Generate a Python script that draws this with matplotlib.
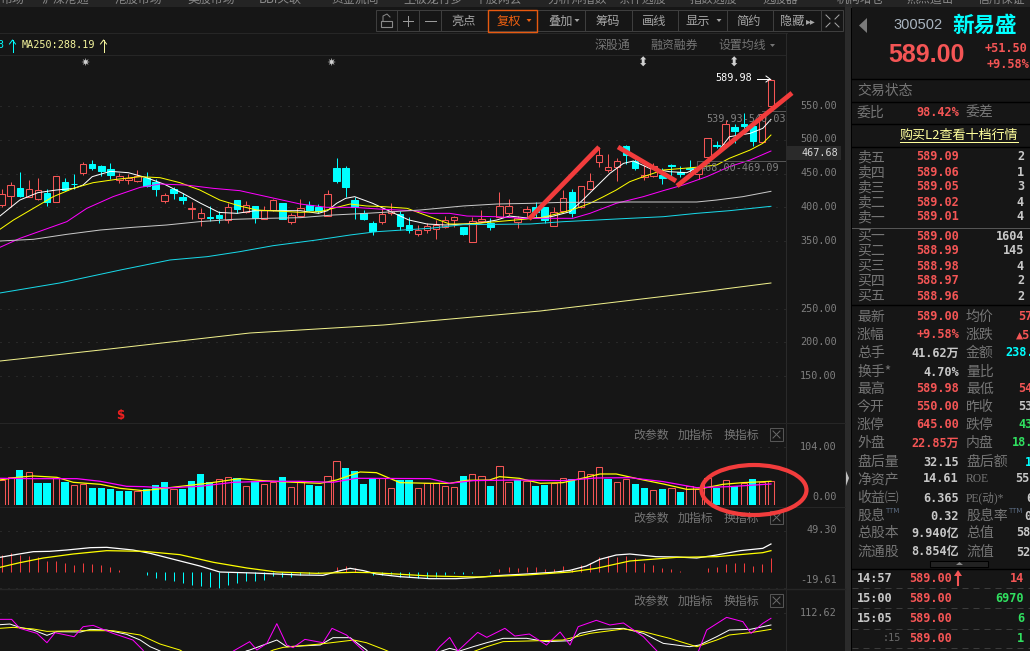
import matplotlib
matplotlib.use('Agg')
from matplotlib import pyplot as plt
from matplotlib.patches import Ellipse, Rectangle, Polygon

plt.rcParams['font.family'] = ['Noto Sans CJK SC', 'DejaVu Sans']

# candles
opens = [403.3, 417.1, 428.0, 415.7, 411.7, 421.6, 408.3, 437.4, 434.9, 450.7,
         464.0, 461.1, 456.6, 440.4, 439.9, 439.4, 442.8, 437.4, 409.7, 427.0,
         415.2, 396.9, 384.5, 385.5, 388.5, 380.6, 410.2, 392.5, 401.8, 382.1,
         395.4, 406.3, 378.6, 387.0, 403.3, 399.9, 387.0, 458.1, 458.1, 410.7,
         391.0, 376.6, 378.6, 391.9, 389.5, 373.7, 360.8, 366.8, 367.3, 371.2,
         381.1, 370.7, 348.0, 379.6, 377.1, 386.0, 392.0, 378.6, 393.4, 399.9,
         399.9, 372.7, 394.9, 422.6, 399.9, 426.5, 467.5, 455.2, 459.1, 490.7,
         468.0, 445.3, 445.8, 447.3, 462.6, 452.7, 457.6, 449.2, 474.9, 492.2,
         493.2, 518.9, 523.8, 520.3, 497.1, 550.0]
closes = [419.1, 432.4, 416.6, 427.5, 426.0, 408.3, 445.8, 426.0, 433.9, 463.6,
          458.1, 453.7, 448.3, 445.8, 443.8, 446.3, 432.0, 427.5, 418.1, 421.6,
          411.2, 398.9, 391.0, 384.0, 384.5, 399.9, 397.4, 402.8, 384.0, 395.9,
          410.2, 382.1, 388.0, 398.4, 395.9, 393.9, 419.1, 438.9, 430.5, 400.4,
          383.1, 364.8, 390.0, 394.9, 372.2, 366.8, 365.8, 372.2, 373.7, 380.6,
          385.0, 360.4, 380.1, 382.1, 370.2, 401.3, 401.3, 383.6, 396.9, 393.4,
          381.1, 393.4, 413.2, 391.0, 431.0, 439.4, 476.9, 460.1, 468.0, 477.4,
          458.6, 447.8, 461.1, 443.8, 461.1, 449.2, 456.1, 458.6, 502.1, 490.7,
          522.8, 512.9, 520.8, 498.1, 537.6, 589.0]
highs = [426.5, 437.9, 451.7, 439.9, 443.3, 426.5, 445.8, 443.3, 449.2, 466.5,
         470.0, 462.6, 465.0, 450.2, 449.2, 455.2, 451.7, 441.8, 421.6, 430.5,
         421.6, 407.8, 398.4, 402.3, 394.9, 405.8, 410.2, 409.2, 401.8, 401.8,
         411.7, 406.3, 391.0, 411.7, 409.2, 404.8, 425.5, 472.9, 461.1, 414.7,
         395.9, 379.6, 398.4, 405.8, 394.9, 385.0, 373.7, 376.2, 381.1, 387.0,
         387.0, 371.2, 385.0, 395.9, 383.6, 422.6, 412.2, 387.0, 401.8, 407.8,
         399.9, 399.9, 425.5, 427.0, 431.0, 450.7, 489.7, 478.9, 472.5, 491.7,
         471.0, 462.6, 465.0, 457.6, 464.0, 461.1, 470.0, 460.1, 502.1, 497.6,
         529.2, 523.3, 539.1, 526.3, 537.6, 589.98]
lows = [400.8, 400.8, 415.7, 414.7, 410.7, 402.3, 408.3, 424.5, 427.0, 447.8,
        455.2, 446.8, 441.8, 435.9, 434.4, 437.9, 430.5, 417.1, 406.3, 412.2,
        404.8, 382.6, 372.2, 380.1, 377.1, 377.1, 391.0, 391.0, 377.1, 382.1,
        393.9, 382.1, 375.2, 386.0, 393.9, 392.0, 387.0, 436.4, 414.7, 383.1,
        381.1, 358.9, 375.7, 388.5, 366.3, 362.3, 357.9, 361.3, 353.4, 368.7,
        371.2, 358.9, 348.0, 378.6, 366.3, 386.0, 388.5, 369.7, 386.0, 386.0,
        376.2, 372.7, 393.4, 386.0, 398.4, 425.5, 460.1, 452.7, 439.4, 464.0,
        455.2, 440.4, 445.3, 434.4, 446.8, 445.3, 445.3, 441.3, 471.0, 488.2,
        492.2, 494.7, 512.0, 491.2, 497.1, 550.0]

# price averages, sampled by candle number
ma5_x = [-0.2, 2, 4, 6, 8, 9, 10, 12, 14, 16, 18, 20, 22, 24, 26, 28, 30, 33, 35, 36, 37, 38, 39, 41, 43,
         45, 47, 49, 51, 53, 54.7, 56.1, 58.4, 60.7, 62.8, 64.2, 65.7, 67.2, 68.7, 69.8, 71.6, 73.8, 75.7,
         77.9, 79, 80.4, 82.7, 84.1, 85]
ma5_y = [387, 410.7, 421.6, 425.5, 428, 433, 445.3, 453.2, 451.2, 443.8, 433.9, 420.6, 405.8, 392.4, 391,
         394.9, 394.9, 394.9, 391, 394.9, 405.8, 413.2, 415.7, 405.8, 393.4, 381.1, 375.2, 373.7, 375, 377,
         381.1, 387, 383.6, 386, 393.4, 410.7, 430.5, 450.2, 465, 468.5, 457.6, 452.7, 451.2, 465, 479.9,
         504.5, 509.5, 516.9, 530.2]
ma10_x = [-0.2, 1.3, 3.5, 5.7, 7.9, 10.1, 12.7, 15.3, 17.5, 19.7, 21.9, 24.1, 26.3, 28.2, 30.4, 33, 35.2,
          36.6, 38.5, 40.3, 42.2, 44.8, 47.3, 49.5, 51.7, 54.7, 57.6, 59.8, 62, 63.5, 65, 66.5, 67.9, 69.4,
          70.9, 73.1, 75.3, 77.5, 79, 80.4, 82.7, 84.1, 85]
ma10_y = [367.3, 381.1, 398.4, 415.7, 428, 436.4, 441.4, 445.3, 443.8, 436.4, 425.5, 410.7, 401.9, 395.9,
          394.4, 392.5, 393.5, 398.4, 404.8, 401.9, 400.9, 398.4, 386, 375.2, 375.2, 378.7, 382.1, 385.1,
          392.5, 398.4, 405.8, 415.7, 425.5, 437.9, 445.3, 455.2, 457.6, 460.1, 462.6, 472.5, 484.8, 494.7,
          507]
ma20_x = [-0.2, 2, 4.6, 7.2, 9.4, 12.3, 15.3, 17.5, 20.4, 23.4, 26.3, 29.3, 33, 35.9, 38.9, 42.2, 45.5,
          47.3, 49.5, 51.4, 54.7, 57.6, 60.6, 63.1, 65, 67.9, 70.9, 73.1, 75.3, 77.9, 80.4, 82.7, 85]
ma20_y = [340.6, 353.9, 366.3, 378.7, 398.4, 415.7, 429.5, 434.4, 432.9, 428, 424.6, 415.7, 404.8, 399.9,
          399.9, 396.9, 394.9, 391, 391, 387, 386, 383.6, 383.6, 383.6, 391, 405.8, 415.7, 424.6, 433,
          445.3, 460.1, 470, 483.3]
ma60_x = [-0.2, 3.5, 7.2, 10.9, 14.5, 18.2, 21.9, 25.6, 29.3, 33, 36.6, 40.3, 42.2, 46.2, 51, 54.7, 58.4,
          62, 65.7, 69.4, 73.1, 76.8, 79, 81.9, 85]
ma60_y = [350, 352.5, 359.9, 366.3, 370.3, 373.7, 378.7, 382.1, 383.6, 384.6, 388.5, 391, 392.5, 395.9,
          401.9, 404.8, 405.8, 407.3, 407.3, 407.8, 407.8, 407.8, 410.7, 415.7, 423.6]
ma120_x = [-0.2, 6.4, 13.1, 18.6, 22.7, 26.3, 30, 34.8, 38.5, 41.4, 47.3, 51, 54.7, 58.4, 62, 65.7, 69.4,
           73.1, 76.8, 80.4, 85]
ma120_y = [273, 287.8, 307, 321.9, 326.8, 334.2, 343.1, 351.5, 358.9, 363.8, 368.8, 374.2, 374.7, 375.2,
           378.6, 381.1, 383.6, 386, 391, 394.9, 401.4]
ma250_x = [-0.2, 10.9, 27.4, 42.2, 59.5, 77.2, 85]
ma250_y = [172.2, 188.5, 213.7, 225.6, 246.3, 274.4, 287.8]

# volume
volumes = [45.1, 51.1, 63.1, 58.9, 39.7, 39.7, 48.1, 41.5, 35.5, 38.5, 30.7, 30.7, 28.8, 25.2, 25.2, 25.8,
           28.8, 36.1, 41.5, 29.4, 28.8, 43.3, 55.9, 41.5, 46.3, 51.1, 48.1, 33.7, 42.7, 38.5, 40.9, 50.5,
           31.9, 42.7, 36.1, 34.3, 51.7, 78.7, 66.7, 61.3, 37.9, 46.9, 49.3, 30, 45.1, 45.1, 30, 39.1,
           39.1, 33.7, 31.9, 52.3, 55.3, 51.7, 34.3, 69.7, 40.9, 45.7, 42.7, 34.3, 36.1, 40.3, 48.1, 46.9,
           60.7, 55.3, 67.9, 46.9, 40.9, 46.3, 37.9, 30.7, 26.4, 28.8, 30.7, 23.4, 34.3, 28.2, 48.1, 31.3,
           44.5, 34.3, 39.1, 46.9, 41.5, 42.7]
vol_up = 'RRCRCCRCRRCCCCCRCCCRCCCCRRCRCRRCRRCCRRCCCCRRCCRR' + 'RRRCRRCRRCRCCRRCRRRCRRCCRCRCRRRCRCRCRR'
vol_ma1_x = [-0.2, 1.7, 3.5, 6.1, 7.9, 10.9, 13.1, 15.7, 17.9, 20.1, 22.7, 26.3, 28.9, 31.5, 35.2, 37, 39.6,
             41.4, 44, 47.3, 49.5, 51.4, 53.9, 55, 57.2, 59.5, 62, 64.6, 66.1, 67.9, 70.9, 73.1, 75.7, 77.1,
             79.7, 81.9, 85]
vol_ma1_y = [45.1, 49.9, 52.3, 49.9, 40.9, 37.3, 30, 25.8, 30, 34.3, 39.1, 47.5, 43.9, 41.5, 39.1, 45.1, 59.5,
             58.3, 40.3, 39.1, 39.1, 44.5, 45.1, 51.1, 48.1, 39.1, 40.3, 49.9, 55.9, 55.9, 45.1, 37.9, 28.2,
             28.8, 37.3, 40.3, 42.7]
vol_ma2_x = [-0.2, 3.5, 8.3, 10.9, 13.8, 15.7, 18.2, 21.9, 25.6, 29.3, 33, 36.6, 39.2, 47.3, 49.5, 52.1, 56.9,
             59.1, 62, 65.7, 69.4, 73.1, 76.8, 80.4, 85]
vol_ma2_y = [48.1, 47.5, 47.5, 42.7, 33.7, 33.1, 30.7, 33.7, 40.9, 42.7, 42.7, 40.9, 48.1, 47.5, 39.1, 43.9,
             45.1, 44.5, 43.9, 48.7, 49.3, 42.1, 31.3, 33.1, 37.9]

# macd
macd = [20, 22, 20, 18.8, 17.2, 12.8, 12.4, 10, 8, 10, 8.8, 8, 5.2, 2, 0, -0.4, -4, -7.6, -10, -11.2, -13.2,
        -16, -16.8, -18, -19.2, -16, -13.2, -11.2, -11.2, -10, -5.2, -6.4, -6.4, -4, -2.4, -2, -0.4, 5.2, 6.8,
        4, 0.2, -4, -4, -2.4, -6, -6.8, -7.2, -7.2, -6.4, -4, -2, -2.8, -2, -0.2, -1.2, 3.2, 6, 4.4, 6, 5.2,
        3.2, 3.2, 6.8, 3.6, 8, 10, 18, 18.8, 18, 19.2, 16, 10, 8, 4.8, 3.2, 0.4, 0, 0, 4.4, 5.6, 9.2, 10.8,
        10.8, 6.8, 9.2, 16.4]
dif_x = [-0.2, 1.7, 3.5, 5.3, 7.2, 9.8, 11.6, 14.5, 16.4, 19, 21.9, 24.1, 27.8, 30.4, 33, 35.5, 37.4, 38.5,
         40, 41.4, 44, 47.3, 50.2, 52.1, 54.7, 58, 60.9, 62.8, 64.6, 66.1, 67.9, 69.4, 72.3, 74.6, 76.8, 79,
         81.6, 84.1, 85]
dif_y = [17.2, 20.8, 24, 24.4, 26, 28.8, 29.2, 26, 22, 14.8, 6.8, -0.4, -1.6, -2.8, -4, -4.4, 1.2, 4, 1.2, -2.8,
         -6, -8.4, -8.4, -7.2, -4.8, -2.8, -0.8, 1.6, 6.8, 14.8, 20, 21.2, 18, 17.6, 16.4, 20, 25.2, 28, 33.2]
dea_x = [-0.2, 2, 4.6, 7.9, 11.6, 15.7, 19.7, 23.4, 27.1, 30.4, 34.8, 38.9, 41, 47.3, 52.8, 58, 62.8, 65.7,
         69.4, 74.6, 79, 84.1, 85]
dea_y = [5.2, 10.8, 16.4, 21.2, 25.2, 24.4, 20.4, 11.2, 4.4, -0.4, -2, -0.8, -1.2, -5.2, -6.4, -4, -0.4, 4,
         12.8, 17.2, 18, 22.8, 25.2]

# kdj
k_x = [-0.2, 0.9, 2, 3.5, 5, 6.1, 8.7, 9.8, 11.6, 13.8, 15.3, 16.4, 17.5, 19, 22, 26, 27, 27.4, 30.4, 31.5,
       35.2, 36.6, 38.5, 40.3, 42, 46, 48.4, 49.5, 50.6, 52.1, 53.6, 55.4, 58, 60.2, 62.8, 63.9, 66.1, 68.7,
       70.9, 73.1, 76, 77.1, 79, 80.4, 82.7, 85]
k_y = [97.3, 98.2, 93.7, 90.1, 82.9, 87.9, 87.4, 91, 90.1, 84.3, 76.6, 67.6, 61.8, 40.6, 27, 40.6, 61.8, 63.1,
       76.6, 67.6, 69.9, 79.8, 79.8, 63.1, 40.6, 45.1, 60.9, 65.4, 61.8, 67.6, 73, 78.9, 78.9, 74.4, 75.7, 85.6,
       91, 92.4, 85.6, 72.1, 67.6, 69.9, 81.1, 90.1, 91, 96.9]
d_x = [-0.2, 1.3, 3.5, 5, 8.7, 12.3, 15.3, 17.5, 19.7, 22, 26, 30, 31.1, 35.2, 38.9, 40.3, 42.2, 45, 49, 52.1,
       53.6, 55.4, 59.4, 62, 65, 68.7, 70.9, 73.8, 76.8, 79, 80.4, 82.7, 85]
d_y = [92.4, 93.7, 91.5, 88.3, 89.2, 89.2, 83.4, 71.2, 63.1, 45.1, 40.6, 63.1, 66.7, 71.2, 76.6, 73, 64, 49.6,
       45.1, 60.9, 67.6, 74.4, 75.7, 76.6, 85.6, 91.5, 87.9, 78.9, 67.6, 76.6, 83.4, 86.5, 91]
j_x = [-0.2, 1.1, 2, 3.9, 5, 5.9, 8, 9, 10.1, 12.3, 14.5, 15.6, 17, 22, 25.6, 27.4, 28.2, 29.3, 30.4, 31.5, 32.2,
       33.5, 35.5, 36.5, 38.1, 40, 41, 46, 48.4, 49.5, 50.4, 52.6, 53.6, 55.6, 56.7, 58.3, 60.2, 61.7, 62.8, 63.7,
       65.7, 67.2, 68.7, 70.9, 72.3, 74, 77, 77.9, 80.1, 81.9, 82.8, 84.1, 85]
j_y = [104.5, 104.5, 92.4, 85.6, 73, 86.5, 81.1, 94.6, 96.4, 85.6, 76.6, 63.1, 31.6, 18.1, 61.8, 74.4, 63.1, 72.1,
       98.7, 69.9, 66.3, 77.5, 73, 92.4, 83.4, 61.8, 31.6, 31.6, 67.6, 80.2, 61.8, 86.9, 80.2, 92.4, 82, 84.7, 69.9,
       87.4, 69.9, 94.6, 103.2, 96.9, 99.6, 81.1, 63.1, 40.6, 61.8, 90.1, 107.2, 101.4, 85.6, 99.1, 105.9]

price_ticks = [150, 200, 250, 350, 400, 450, 500, 550]

# order book
book_names = ['卖五', '卖四', '卖三', '卖二', '卖一', '买一', '买二', '买三', '买四', '买五']
book_prices = ['589.09', '589.06', '589.05', '589.02', '589.01', '589.00', '588.99', '588.98', '588.97', '588.96']
book_sizes = ['2', '1', '3', '4', '4', '1604', '145', '4', '2', '2']

# quote table
stat_left = ['最新', '涨幅', '总手', '换手*', '最高', '今开', '涨停', '外盘', '盘后量', '净资产', '收益㈢', '股息', '总股本', '流通股']
stat_left_val = ['589.00', '+9.58%', '41.62万', '4.70%', '589.98', '550.00', '645.00', '22.85万', '32.15', '14.61',
                 '6.365', '0.32', '9.940亿', '8.854亿']
stat_left_col = 'rrwwrrrrwwwwww'
stat_right = ['均价', '涨跌', '金额', '量比', '最低', '昨收', '跌停', '内盘', '盘后额', 'ROE', 'PE(动)*', '股息率', '总值', '流值']
stat_right_val = ['57', '▲5', '238.', '', '54', '53', '43', '18.', '1', '55', '6', '0', '58', '52']
stat_right_col = 'rrc rwggcwwwww'

# last trades
trade_times = ['14:57', '15:00', '15:05', ':15']
trade_prices = ['589.00', '589.00', '589.00', '589.00']
trade_sizes = ['14', '6970', '6', '1']
trade_cols = 'rggg'

BG = '#161616'
RED = '#f45555'
CYAN = '#00ffff'
GRAY = '#757575'
LINE = '#2c2c2c'
W, H = 1030, 651
THIN = 0.72


def pane(x0, y0, x1, y1):
    ax = fig.add_axes([x0 / W, 1 - y1 / H, (x1 - x0) / W, (y1 - y0) / H], facecolor='none')
    ax.set_xlim((x0 - 1.7) / 9.05, (x1 - 1.7) / 9.05)
    ax.axis('off')
    return ax


fig = plt.figure(figsize=(W / 100, H / 100), dpi=100, facecolor=BG)

ax_main = pane(0, 56, 787, 423)
ax_main.set_ylim(80.4, 624.07)
ax_vol = pane(0, 424, 787, 505)
ax_vol.set_ylim(0, 146)
ax_macd = pane(0, 507, 787, 589)
ax_macd.set_ylim(-20.8, 77.6)
ax_kdj = pane(0, 590, 787, 651)
ax_kdj.set_ylim(61.8, 144.1)

# dotted price levels
for p in price_ticks:
    ax_main.plot([-0.2, 86.7], [p, p], color='#3a3a3a', lw=THIN, ls=(0, (1, 7)), zorder=1)
for ax, levels in ((ax_vol, [104, 0]), (ax_macd, [49.3, -19.61]), (ax_kdj, [112.62])):
    for p in levels:
        ax.plot([-0.2, 86.7], [p, p], color='#3a3a3a', lw=THIN, ls=(0, (1, 7)), zorder=1)

for i in range(len(opens)):
    up = closes[i] >= opens[i]
    col = RED if up else CYAN
    top, bot = max(opens[i], closes[i]), min(opens[i], closes[i])
    ax_main.plot([i, i], [top, highs[i]], color=col, lw=THIN, zorder=2, solid_capstyle='butt')
    ax_main.plot([i, i], [lows[i], bot], color=col, lw=THIN, zorder=2, solid_capstyle='butt')
    ax_main.bar(i, top - bot, width=0.72, bottom=bot, facecolor=BG if up else CYAN, edgecolor=col, lw=0.75, zorder=2)

ax_main.plot(ma5_x, ma5_y, color='#ffffff', lw=THIN, zorder=3)
ax_main.plot(ma10_x, ma10_y, color='#ffff00', lw=THIN, zorder=3)
ax_main.plot(ma20_x, ma20_y, color='#ff00ff', lw=THIN, zorder=3)
ax_main.plot(ma60_x, ma60_y, color='#c8c8c8', lw=THIN, zorder=3)
ax_main.plot(ma120_x, ma120_y, color='#18d8e8', lw=THIN, zorder=3)
ax_main.plot(ma250_x, ma250_y, color='#f0f08c', lw=THIN, zorder=3)

for i, v in enumerate(volumes):
    if vol_up[i] == 'R':
        ax_vol.bar(i, v, width=0.7, facecolor=BG, edgecolor=RED, lw=0.75, zorder=2)
    else:
        ax_vol.bar(i, v, width=0.8, color=CYAN, lw=0, zorder=2)
ax_vol.plot(vol_ma1_x, vol_ma1_y, color='#ffff00', lw=0.9, zorder=3)
ax_vol.plot(vol_ma2_x, vol_ma2_y, color='#ff00ff', lw=0.9, zorder=3)

for i, v in enumerate(macd):
    ax_macd.plot([i, i], [0, v], color='#f03c3c' if v > 0 else CYAN, lw=THIN, zorder=2, solid_capstyle='butt')
ax_macd.plot(dif_x, dif_y, color='#ffffff', lw=0.9, zorder=3)
ax_macd.plot(dea_x, dea_y, color='#ffff00', lw=0.9, zorder=3)

ax_kdj.plot(k_x, k_y, color='#ffffff', lw=THIN, zorder=3)
ax_kdj.plot(d_x, d_y, color='#ffff00', lw=THIN, zorder=3)
ax_kdj.plot(j_x, j_y, color='#ff00ff', lw=THIN, zorder=3)

# page overlay in pixels: toolbar, labels, quote panel, hand drawn marks
ov = fig.add_axes([0, 0, 1, 1], facecolor='none')
ov.set_xlim(0, W)
ov.set_ylim(H, 0)
ov.axis('off')


def t(x, y, s, c=GRAY, size=8.6, ha='left', **kw):
    ov.text(x, y, s, color=c, fontsize=size, ha=ha, va='center', **kw)


def mono(x, y, s, c=GRAY, size=7.3, ha='right', weight='normal'):
    ov.text(x, y, s, color=c, fontsize=size, ha=ha, va='center', weight=weight,
            family=['DejaVu Sans Mono', 'Noto Sans CJK SC'])


def hline(x0, x1, y, c=LINE, lw=THIN, **kw):
    ov.plot([x0, x1], [y, y], color=c, lw=lw, **kw)


def vline(x, y0, y1, c=LINE, lw=THIN):
    ov.plot([x, x], [y0, y1], color=c, lw=lw)


# top tabs
ov.add_patch(Rectangle((0, 0), W, 7, color='#242424', lw=0))
tabs = [(0, '市场'), (42, '沪深港通'), (115, '港股市场'), (187, '美股市场'), (259, 'BBI关联'), (331, '资金流向'),
        (403, '主板龙行多'), (475, '个股网会'), (547, '分析师指数'), (619, '条件选股'), (690, '指数选股'),
        (762, '选股器'), (837, '机构增仓'), (907, '热点追击'), (978, '信用保证')]
for x, s in tabs:
    t(x, -1, s, c='#8a8a8a', size=8.6)

# toolbar
edges = [376, 397, 419, 441, 488, 537, 585, 632, 678, 727, 773, 821, 843]
ov.add_patch(Rectangle((376, 10), 467, 21, fill=False, ec='#3e3e3e', lw=0.75))
for x in edges[1:-1]:
    vline(x, 10, 31, c='#3e3e3e')
ov.add_patch(Rectangle((488, 9.5), 49, 22, fill=False, ec='#e85a10', lw=1, zorder=5))
ov.add_patch(Rectangle((381, 21), 11, 6, fill=False, ec='#8a8a8a', lw=0.8))
ov.plot([383, 383, 387, 390], [21, 16, 14, 17], color='#8a8a8a', lw=THIN)
hline(403, 413, 21, c='#9a9a9a')
vline(408, 16, 26, c='#9a9a9a')
hline(425, 436, 21, c='#9a9a9a')
buttons = [(464, '亮点', '#a6a6a6'), (509, '复权', '#f06010'), (561, '叠加', '#a6a6a6'), (608, '筹码', '#a6a6a6'),
           (654, '画线', '#a6a6a6'), (698, '显示', '#a6a6a6'), (749, '简约', '#a6a6a6'), (792, '隐藏', '#a6a6a6')]
for x, s, c in buttons:
    t(x, 21, s, c=c, size=8.8, ha='center')
t(811, 21, '▸▸', c='#a6a6a6', size=7, ha='center', family=['DejaVu Sans'])
for x, c in ((529, '#f06010'), (577, '#a6a6a6'), (719, '#a6a6a6')):
    ov.add_patch(Polygon([(x - 2.5, 19), (x + 2.5, 19), (x, 22)], color=c, lw=0))
for x, y, dx, dy in ((826, 15, 4, 4), (839, 15, -4, 4), (826, 27, 4, -4), (839, 27, -4, -4)):
    ov.plot([x, x + dx], [y, y + dy], color='#a6a6a6', lw=THIN)

# legend row
hline(0, 787, 33, c='#262626')
hline(0, 785, 55, c='#262626')
t(-3, 45, '3', c=CYAN, size=7.3, family=['DejaVu Sans Mono'])
ov.plot([12.5, 12.5], [52, 40], color=CYAN, lw=THIN)
ov.plot([9.5, 12.5, 15.5], [44, 40, 44], color=CYAN, lw=THIN)
mono(22, 45, 'MA250:288.19', c='#f4f49c', ha='left')
ov.plot([103.5, 103.5], [52, 40], color='#f4f49c', lw=THIN)
ov.plot([100.5, 103.5, 106.5], [44, 40, 44], color='#f4f49c', lw=THIN)
t(595, 45, '深股通', size=8.6)
t(650, 45, '融资融券', size=8.6)
t(718, 45, '设置均线', size=8.6)
ov.add_patch(Polygon([(770, 44), (775, 44), (772.5, 47)], color=GRAY, lw=0))

# event marks
for x in (85, 331):
    t(x, 63, '✷', c='#d0d0d0', size=8, ha='center', family=['DejaVu Sans'])
for x in (643, 734):
    t(x, 63, '⬍', c='#d0d0d0', size=9, ha='center', family=['DejaVu Sans'])
t(120, 415, '$', c='#f02020', size=8.5, ha='center', family=['DejaVu Sans'], weight='bold')

# price notes
mono(752, 78, '589.98', c='#ffffff')
ov.plot([757, 770], [79, 79], color='#ffffff', lw=THIN)
ov.plot([766, 770, 766], [76, 79, 82], color='#ffffff', lw=THIN)
hline(762, 785, 111, c='#555555')
mono(706, 119, '539.93-540.03', c='#7f7f7f', ha='left')
hline(697, 785, 161, c='#555555')
vline(697, 161, 172, c='#555555')
mono(700, 168, '468.00-469.09', c='#7f7f7f', ha='left')

# axis strip
vline(786, 33, 651, c='#2a2a2a')
ticks_px = [(106, '550.00'), (139, '500.00'), (173, '450.00'), (207, '400.00'), (241, '350.00'), (309, '250.00'),
            (342, '200.00'), (376, '150.00'), (447, '104.00'), (497, '0.00'), (530, '49.30'), (580, '-19.61'),
            (613, '112.62')]
for y, s in ticks_px:
    mono(837, y, s, c='#7f7f7f')
ov.add_patch(Rectangle((787, 146), 54, 14, color='#2a2a2a', lw=0, zorder=0.5))
mono(838, 153, '467.68', c='#d8d8d8')
hline(0, 845, 423, c='#262626')
hline(0, 845, 506.5, c='#262626')
hline(0, 845, 589, c='#262626', lw=1)

# pane buttons
for y in (435, 518, 601):
    t(633, y, '改参数', size=8.6)
    t(678, y, '加指标', size=8.6)
    t(724, y, '换指标', size=8.6)
    ov.add_patch(Rectangle((770, y - 7), 13, 13, fill=False, ec='#555555', lw=0.75))
    ov.plot([773, 780], [y - 4, y + 3], color='#6a6a6a', lw=THIN)
    ov.plot([773, 780], [y + 3, y - 4], color='#6a6a6a', lw=THIN)

# divider
ov.add_patch(Rectangle((845, 0), 7, H, color='#2b2b2b', lw=0))
ov.add_patch(Rectangle((851, 8), 1, H, color='#000000', lw=0))
ov.add_patch(Polygon([(846, 471), (849, 478), (846, 486)], color='#c0c0c0', lw=0))

# quote header
ov.add_patch(Polygon([(867, 18), (859, 25.5), (867, 33)], color='#7a7a7a', lw=0))
t(893, 25, '300502', c='#a9b4bf', size=10.5, family=['Liberation Sans'])
t(952, 25, '新易盛', c=CYAN, size=15.5, weight='bold')
t(965, 55, '589.00', c=RED, size=18, ha='right', family=['Liberation Sans'], weight='bold')
mono(1027, 48, '+51.50', c=RED, size=8.6, weight='bold')
mono(1029, 65, '+9.58%', c=RED, size=8.6, weight='bold')
for y in (79, 102, 124, 147, 304.5):
    hline(852, W, y, c='#000000', lw=1)
hline(852, W, 227.5, c='#555555')
hline(852, W, 568.5, c='#000000', lw=1)

t(857, 91, '交易状态', size=10)
t(857, 113, '委比', size=10)
mono(959, 113, '98.42%', c=RED, size=8.6, weight='bold')
t(966, 113, '委差', size=10)
t(900, 135, '购买L2查看十档行情', c='#ffff9c', size=9.4)
hline(900, 1018, 142, c='#ffff9c')

book_y = [157, 172, 187, 202, 217, 236, 251, 266, 281, 296]
for y, name, price, size in zip(book_y, book_names, book_prices, book_sizes):
    t(857, y, name, size=10)
    mono(959, y, price, c=RED, size=8.6, weight='bold')
    mono(1024, y, size, c='#c8c8c8', size=8.6, weight='bold')

stat_y = [317, 335, 353, 372, 389, 407, 425, 443, 462, 479, 498, 516, 533, 552]
colors = {'r': RED, 'w': '#c8c8c8', 'c': CYAN, 'g': '#30e060', ' ': GRAY}
starts = [1018, 1016, 1005, 1030, 1018, 1018, 1018, 1012, 1025, 1015, 1026, 1024, 1016, 1016]
for i, y in enumerate(stat_y):
    t(857, y, stat_left[i], size=10)
    mono(959, y, stat_left_val[i], c=colors[stat_left_col[i]], size=8.6, weight='bold')
    if stat_right[i] in ('ROE', 'PE(动)*'):
        ov.text(966, y, stat_right[i], color=GRAY, fontsize=8.4, va='center',
                family=['Liberation Serif', 'Noto Sans CJK SC'])
    else:
        t(966, y, stat_right[i], size=10)
    mono(starts[i], y, stat_right_val[i], c=colors[stat_right_col[i]], size=8.6, ha='left', weight='bold')
t(885, 511, 'TTM', c='#5a6a80', size=5, family=['DejaVu Sans'])
t(1008, 511, 'TTM', c='#5a6a80', size=5, family=['DejaVu Sans'])

ov.add_patch(Rectangle((930, 561), 58, 6, fc='#222222', ec='#000000', lw=0.75))
ov.add_patch(Polygon([(956, 565), (963, 565), (959.5, 562)], color='#888888', lw=0))

trade_y = [578, 598, 618, 638]
for i, y in enumerate(trade_y):
    if i < 3:
        mono(857, y, trade_times[i], c='#c8c8c8', size=8.6, ha='left', weight='bold')
    else:
        mono(883, y, trade_times[i], c='#6a6a6a', size=7.3, ha='left')
    mono(952, y, trade_prices[i], c=RED, size=8.6, weight='bold')
    mono(1024, y, trade_sizes[i], c=colors[trade_cols[i]], size=8.6, weight='bold')
ov.plot([958, 958], [585, 574], color=RED, lw=1.5)
ov.add_patch(Polygon([(954, 576), (962, 576), (958, 570)], color=RED, lw=0))
for y in (588, 608, 629, 648):
    hline(852, W, y, c='#3c3c3c', ls=(0, (6, 5)))

# hand drawn marks
strokes = [((529, 219), (599, 147)), ((618, 147), (676, 181)), ((677, 186), (792, 93))]
for a, b in strokes:
    ov.plot([a[0], b[0]], [a[1], b[1]], color='#f23c3c', lw=3.4, solid_capstyle='butt', zorder=6)
ov.add_patch(Ellipse((754, 490), 105, 50, fill=False, ec='#f23c3c', lw=3, zorder=6))

fig.savefig('out.png', dpi=100, facecolor=BG)
